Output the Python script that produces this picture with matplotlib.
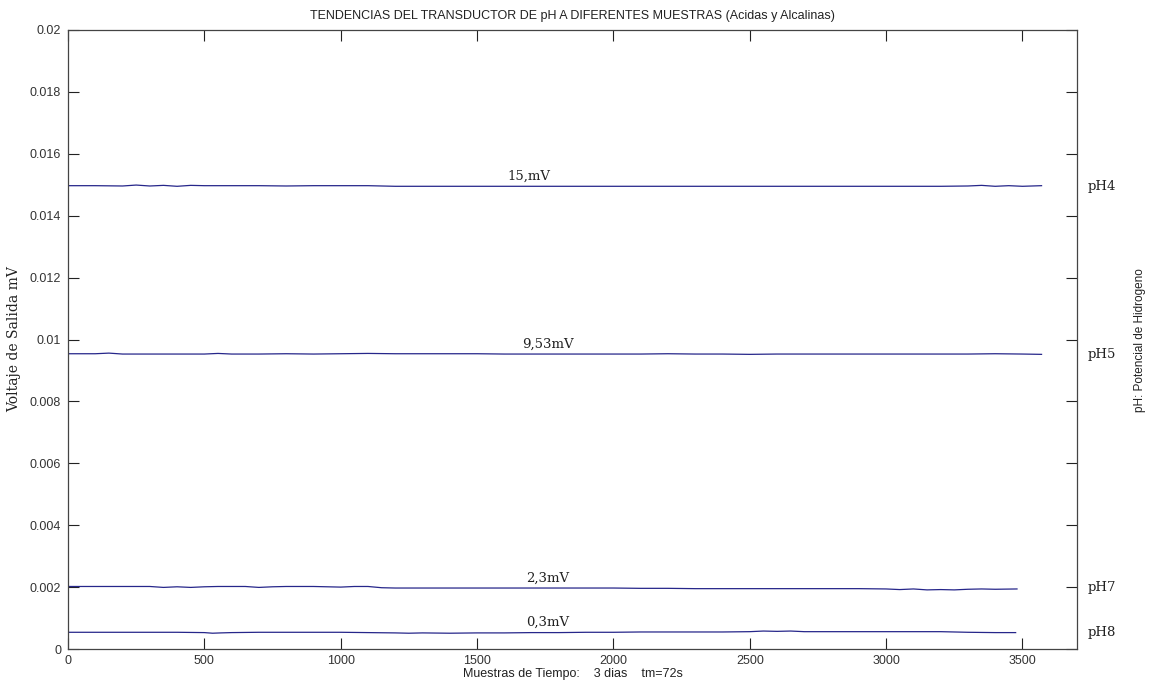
import matplotlib
matplotlib.use("Agg")
import matplotlib.pyplot as plt
import numpy as np

# sample positions and read values (V)
x_ph4 = [0, 100, 200, 250, 300, 350, 400, 450, 500, 600, 700, 800, 900, 1000, 1100, 1200, 1300,
         1400, 1500, 1600, 1700, 1800, 1900, 2000, 2100, 2200, 2300, 2400, 2500, 2600, 2700, 2800,
         2900, 3000, 3100, 3200, 3300, 3350, 3400, 3450, 3500, 3570]
y_ph4 = [0.01497, 0.01497, 0.01496, 0.01499, 0.01496, 0.01498, 0.01495, 0.01498, 0.01497, 0.01497,
         0.01497, 0.01496, 0.01497, 0.01497, 0.01497, 0.01495, 0.01495, 0.01495, 0.01495, 0.01495,
         0.01495, 0.01495, 0.01495, 0.01495, 0.01495, 0.01495, 0.01495, 0.01495, 0.01495, 0.01495,
         0.01495, 0.01495, 0.01495, 0.01495, 0.01495, 0.01495, 0.01496, 0.01498, 0.01495, 0.01497,
         0.01495, 0.01497]

x_ph5 = [0, 100, 150, 200, 300, 400, 500, 550, 600, 700, 800, 900, 1000, 1100, 1200, 1300, 1400,
         1500, 1600, 1700, 1800, 1900, 2000, 2100, 2200, 2300, 2400, 2500, 2600, 2700, 2800, 2900,
         3000, 3100, 3200, 3300, 3400, 3500, 3570]
y_ph5 = [0.00954, 0.00954, 0.00956, 0.00953, 0.00953, 0.00953, 0.00953, 0.00955, 0.00953, 0.00953,
         0.00954, 0.00953, 0.00954, 0.00955, 0.00954, 0.00954, 0.00954, 0.00954, 0.00953, 0.00953,
         0.00953, 0.00953, 0.00953, 0.00953, 0.00954, 0.00953, 0.00953, 0.00952, 0.00953, 0.00953,
         0.00953, 0.00953, 0.00953, 0.00953, 0.00953, 0.00953, 0.00954, 0.00953, 0.00952]

x_ph7 = [0, 100, 200, 300, 350, 400, 450, 500, 550, 600, 650, 700, 750, 800, 900, 1000, 1050,
         1100, 1150, 1200, 1250, 1300, 1400, 1500, 1600, 1700, 1800, 1900, 2000, 2100, 2200, 2300,
         2400, 2500, 2600, 2700, 2800, 2900, 3000, 3050, 3100, 3150, 3200, 3250, 3300, 3350, 3400,
         3480]
y_ph7 = [0.00202, 0.00202, 0.00202, 0.00202, 0.00199, 0.00201, 0.00199, 0.00201, 0.00202, 0.00202,
         0.00202, 0.00199, 0.00201, 0.00202, 0.00202, 0.00200, 0.00202, 0.00202, 0.00198, 0.00197,
         0.00197, 0.00197, 0.00197, 0.00197, 0.00197, 0.00197, 0.00197, 0.00197, 0.00197, 0.00196,
         0.00196, 0.00195, 0.00195, 0.00195, 0.00195, 0.00195, 0.00195, 0.00195, 0.00194, 0.00192,
         0.00194, 0.00191, 0.00192, 0.00191, 0.00193, 0.00194, 0.00193, 0.00194]

x_ph8 = [0, 100, 200, 300, 400, 500, 530, 560, 600, 700, 800, 900, 1000, 1100, 1200, 1250, 1300,
         1400, 1500, 1600, 1700, 1800, 1900, 2000, 2100, 2200, 2300, 2400, 2500, 2550, 2600, 2650,
         2700, 2800, 2900, 3000, 3100, 3200, 3250, 3300, 3400, 3475]
y_ph8 = [0.00054, 0.00054, 0.00054, 0.00054, 0.00054, 0.00053, 0.00051, 0.00052, 0.00053, 0.00054,
         0.00054, 0.00054, 0.00054, 0.00053, 0.00052, 0.00051, 0.00052, 0.00051, 0.00052, 0.00052,
         0.00053, 0.00053, 0.00054, 0.00054, 0.00055, 0.00055, 0.00055, 0.00055, 0.00056, 0.00058,
         0.00057, 0.00058, 0.00056, 0.00056, 0.00056, 0.00056, 0.00056, 0.00056, 0.00055, 0.00054,
         0.00053, 0.00053]

series_x = [x_ph4, x_ph5, x_ph7, x_ph8]
series_y = [y_ph4, y_ph5, y_ph7, y_ph8]
value_labels = ["15,mV", "9,53mV", "2,3mV", "0,3mV"]
label_x = [1690, 1760, 1760, 1760]
ph_labels = ["pH4", "pH5", "pH7", "pH8"]
xticks = [0, 500, 1000, 1500, 2000, 2500, 3000, 3500]
yticks = [0, 0.002, 0.004, 0.006, 0.008, 0.01, 0.012, 0.014, 0.016, 0.018, 0.02]
ytick_labels = ["0", "0.002", "0.004", "0.006", "0.008", "0.01", "0.012", "0.014", "0.016", "0.018", "0.02"]

sans = ["Liberation Sans", "DejaVu Sans"]
serif = ["DejaVu Serif"]

fig = plt.figure(figsize=(11.52, 6.85), dpi=100)
ax = fig.add_axes([68 / 1152, 36 / 685, (1077 - 68) / 1152, (649 - 30) / 685])

line_color = "#26268a"
for xs, ys in zip(series_x, series_y):
    ax.plot(xs, ys, color=line_color, lw=0.9)

ax.set_xlim(0, 3700)
ax.set_ylim(0, 0.02)
ax.set_xticks(xticks)
ax.set_xticklabels([str(t) for t in xticks], fontfamily=sans, fontsize=9, color="#333333")
ax.set_yticks(yticks)
ax.set_yticklabels(ytick_labels, fontfamily=sans, fontsize=9, color="#333333")
ax.tick_params(direction="in", length=8, width=0.8, top=True, right=True, color="#222222")
ax.tick_params(axis="x", pad=4)
ax.tick_params(axis="y", pad=5)
for s in ax.spines.values():
    s.set_color("#444444")
    s.set_linewidth(0.9)

for xs, ys, lab, lx in zip(series_x, series_y, value_labels, label_x):
    ax.text(lx, ys[len(ys) // 2] + 0.00012, lab, ha="center", va="bottom",
            fontfamily=serif, fontsize=9.5, color="#222222")

ph_y = [y_ph4[0], y_ph5[0], y_ph7[0], y_ph8[0]]
for lab, yv in zip(ph_labels, ph_y):
    ax.text(1.011, yv - 0.00002, lab, transform=ax.get_yaxis_transform(), ha="left", va="center",
            fontfamily=serif, fontsize=9.5, color="#222222")

ax.set_title("TENDENCIAS DEL TRANSDUCTOR DE pH A DIFERENTES MUESTRAS (Acidas y Alcalinas)",
             fontfamily=sans, fontsize=9, color="#222222", pad=8)
ax.set_xlabel("Muestras de Tiempo:    3 dias    tm=72s", fontfamily=sans, fontsize=9,
              color="#222222", labelpad=1)
ax.set_ylabel("Voltaje de Salida mV", fontfamily=serif, fontsize=10, color="#222222", labelpad=6)
fig.text(1140 / 1152, 1 - 340 / 685, "pH: Potencial de Hidrogeno", rotation=90, ha="center",
         va="center", fontfamily=sans, fontsize=8.5, color="#222222")

fig.savefig("out.png", dpi=100, facecolor="white")
